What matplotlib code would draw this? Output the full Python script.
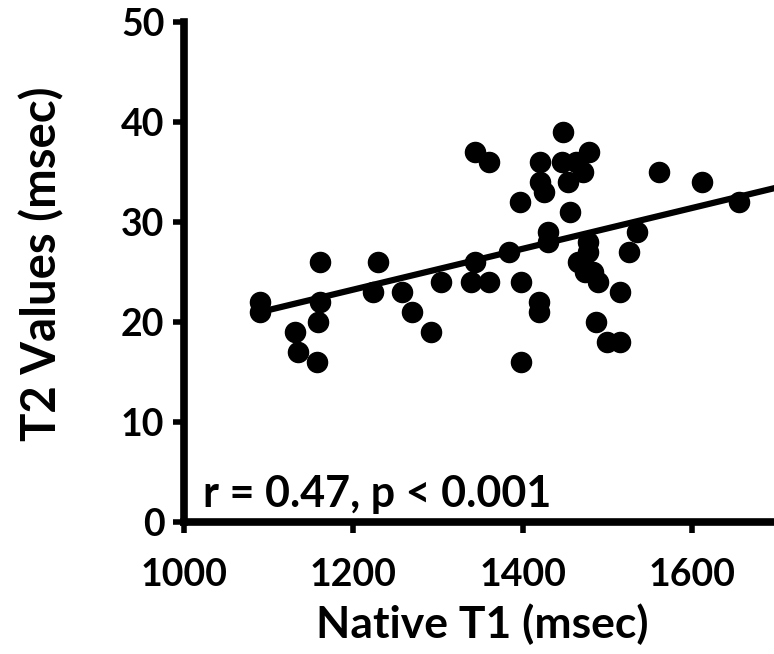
import matplotlib.pyplot as plt
import numpy as np

# Native T1 (msec) vs T2 values (msec)
t1 = [1343, 1090, 1090, 1160, 1229, 1160, 1158, 1131, 1134, 1157,
      1223, 1257, 1269, 1291, 1303, 1339, 1343, 1447, 1360, 1420,
      1446, 1478, 1463, 1471, 1420, 1425, 1453, 1396, 1455, 1561,
      1611, 1655, 1429, 1429, 1383, 1477, 1477, 1465, 1473, 1483,
      1489, 1535, 1525, 1514, 1360, 1398, 1419, 1419, 1486, 1499,
      1514, 1398]
t2 = [37, 22, 21, 26, 26, 22, 20, 19, 17, 16,
      23, 23, 21, 19, 24, 24, 26, 39, 36, 36,
      36, 37, 36, 35, 34, 33, 34, 32, 31, 35,
      34, 32, 29, 28, 27, 28, 27, 26, 25, 25,
      24, 29, 27, 23, 24, 24, 22, 21, 20, 18,
      18, 16]

# regression line as drawn in the figure
fit_x = [1090, 1800]
fit_y = [21.0, 35.5]

x_ticks = [1000, 1200, 1400, 1600]
y_ticks = [0, 10, 20, 30, 40, 50]

plt.rcParams['font.family'] = ['Lato', 'DejaVu Sans']
plt.rcParams['font.weight'] = 'bold'

fig = plt.figure(figsize=(7.74, 6.54), dpi=100)
# axes runs past the right edge, like the cropped original
ax = fig.add_axes([0.2377, 0.2018, 0.876, 0.7645])

ax.scatter(t1, t2, s=210, color='black', zorder=3, clip_on=False)
ax.plot(fit_x, fit_y, color='black', lw=4.5, zorder=2)

ax.set_xlim(1000, 1800)
ax.set_ylim(0, 50)
ax.set_xticks(x_ticks)
ax.set_yticks(y_ticks)
ax.tick_params(labelsize=27, width=4, length=8)
ax.tick_params(axis='x', pad=18)
ax.tick_params(axis='y', pad=6)

for side in ['top', 'right']:
    ax.spines[side].set_visible(False)
for side in ['left', 'bottom']:
    ax.spines[side].set_linewidth(5.5)

ax.set_xlabel('Native T1 (msec)', fontsize=32, fontweight='bold')
ax.set_ylabel('T2 Values (msec)', fontsize=34, fontweight='bold')
ax.xaxis.set_label_coords(0.44, -0.162)
ax.yaxis.set_label_coords(-0.177, 0.516)

ax.text(1023, 1.5, 'r = 0.47, p < 0.001', fontsize=31, fontweight='bold',
        ha='left', va='baseline')

fig.savefig('out.png', dpi=100)
